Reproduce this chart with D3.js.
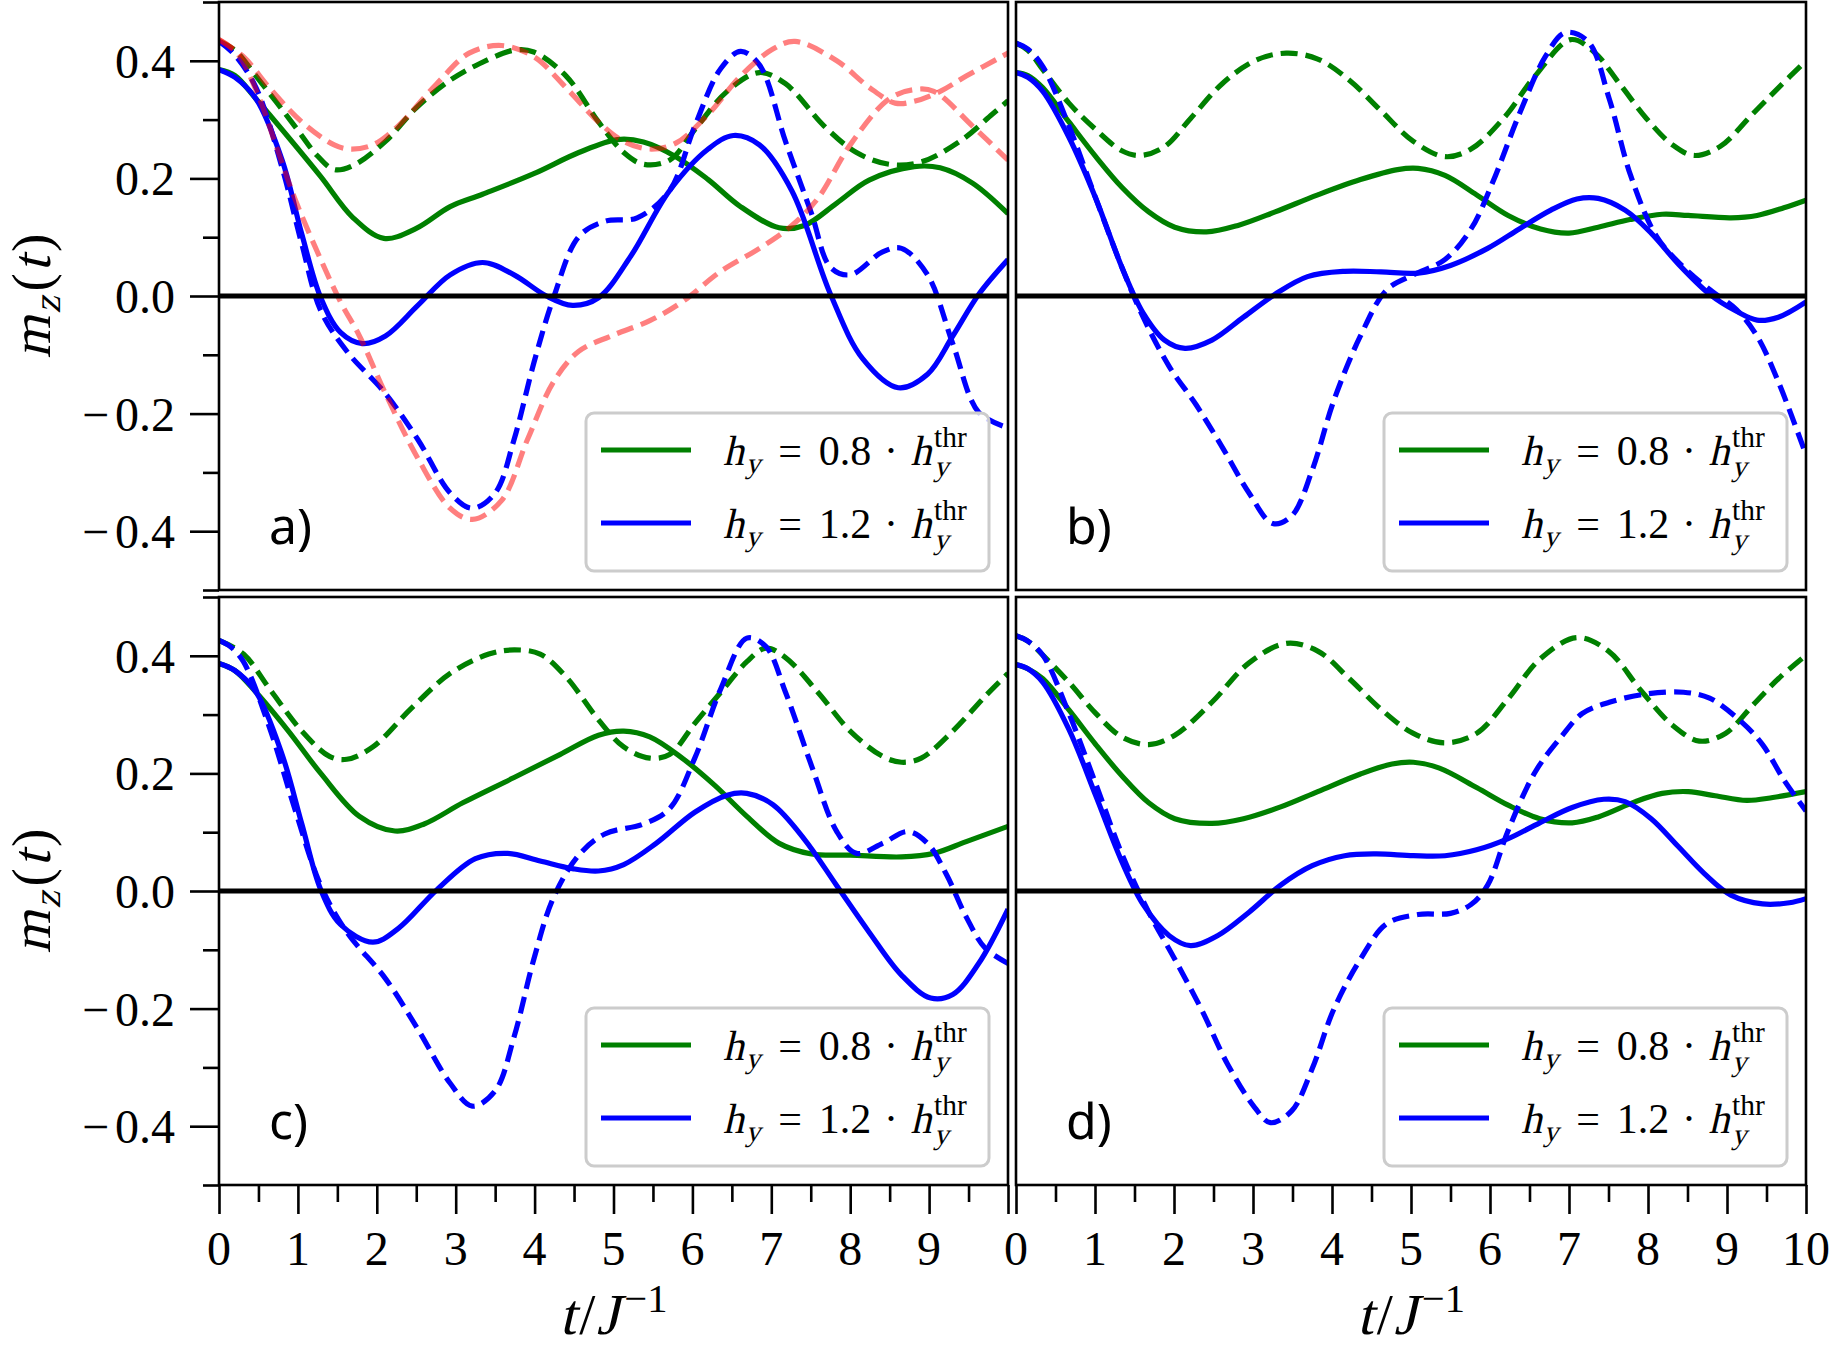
<!DOCTYPE html>
<html><head><meta charset="utf-8">
<script src="https://cdn.jsdelivr.net/npm/d3@7"></script>
<style>
body{margin:0;background:#fff}
.serif{font-family:"Liberation Serif","DejaVu Serif",serif}
.sans{font-family:"Noto Sans","Open Sans",sans-serif}
</style>
</head><body>
<svg id="chart" width="1829" height="1352"></svg>
<script>
// ---------------- data ----------------
const yTicksMajor = [-0.4, -0.2, 0, 0.2, 0.4];
const yTickLabels = ["−0.4", "−0.2", "0.0", "0.2", "0.4"];
const yTicksMinor = [-0.5, -0.3, -0.1, 0.1, 0.3, 0.5];
const xTicksMajor = [0,1,2,3,4,5,6,7,8,9,10];
const xTicksMinor = [0.5,1.5,2.5,3.5,4.5,5.5,6.5,7.5,8.5,9.5];
const xTickLabelsLeft = ["0","1","2","3","4","5","6","7","8","9",""];
const xTickLabelsRight = ["0","1","2","3","4","5","6","7","8","9","10"];
const panelLabels = ["a)", "b)", "c)", "d)"];
const legendFactors = ["0.8", "1.2"];

// [t, m_z]
const a_green_solid = [[0,0.385],[0.2,0.375],[0.47,0.335],[0.88,0.27],[1.29,0.203],[1.7,0.133],[2.09,0.098],[2.5,0.115],[2.93,0.152],[3.34,0.173],[3.99,0.208],[4.56,0.244],[5.05,0.266],[5.38,0.262],[5.79,0.237],[6.2,0.198],[6.6,0.153],[7.1,0.116],[7.42,0.12],[7.83,0.158],[8.24,0.197],[8.81,0.22],[9.14,0.218],[9.55,0.192],[10,0.14]];
const a_green_dashed = [[0,0.433],[0.2,0.418],[0.47,0.374],[0.96,0.289],[1.25,0.238],[1.46,0.215],[1.7,0.222],[2.11,0.263],[2.5,0.32],[2.93,0.367],[3.3,0.395],[3.74,0.418],[3.99,0.415],[4.4,0.374],[4.81,0.296],[5.13,0.244],[5.38,0.224],[5.71,0.231],[6.03,0.283],[6.44,0.348],[6.85,0.38],[7.18,0.361],[7.67,0.289],[8.08,0.244],[8.49,0.224],[8.9,0.228],[9.39,0.263],[9.8,0.309],[10,0.332]];
const a_blue_solid = [[0,0.385],[0.2,0.372],[0.47,0.335],[0.8,0.231],[1.05,0.105],[1.29,-0.003],[1.54,-0.062],[1.82,-0.081],[2.11,-0.068],[2.52,-0.016],[2.93,0.036],[3.34,0.057],[3.74,0.036],[4.15,0.0],[4.48,-0.016],[4.81,-0.003],[5.22,0.068],[5.71,0.179],[6.2,0.25],[6.52,0.273],[6.85,0.257],[7.26,0.179],[7.75,0.003],[8.16,-0.107],[8.61,-0.156],[8.98,-0.133],[9.3,-0.068],[9.63,0.003],[10,0.062]];
const a_blue_dashed = [[0,0.433],[0.2,0.41],[0.47,0.354],[0.8,0.218],[1.05,0.088],[1.29,-0.025],[1.62,-0.094],[2.11,-0.166],[2.52,-0.244],[2.93,-0.335],[3.21,-0.361],[3.5,-0.335],[3.74,-0.244],[3.99,-0.114],[4.24,-0.003],[4.56,0.101],[4.89,0.127],[5.3,0.133],[5.71,0.179],[6.03,0.289],[6.36,0.387],[6.61,0.416],[6.85,0.393],[7.18,0.263],[7.51,0.14],[7.75,0.049],[8.0,0.036],[8.41,0.075],[8.65,0.081],[8.98,0.036],[9.3,-0.081],[9.63,-0.198],[10,-0.224]];
const a_red_dashed_1 = [[0,0.436],[0.31,0.407],[0.64,0.354],[1.05,0.296],[1.46,0.257],[1.66,0.25],[1.95,0.257],[2.27,0.289],[2.76,0.361],[3.17,0.413],[3.58,0.426],[3.99,0.407],[4.4,0.354],[4.81,0.296],[5.13,0.263],[5.46,0.25],[5.79,0.26],[6.2,0.309],[6.61,0.374],[7.02,0.42],[7.3,0.433],[7.83,0.4],[8.24,0.355],[8.57,0.328],[8.81,0.331],[9.14,0.348],[9.47,0.374],[10,0.413]];
const a_red_dashed_2 = [[0,0.436],[0.23,0.413],[0.5,0.34],[0.72,0.257],[0.96,0.166],[1.29,0.062],[1.54,-0.01],[1.78,-0.068],[2.11,-0.166],[2.52,-0.276],[2.93,-0.361],[3.21,-0.38],[3.58,-0.348],[3.91,-0.244],[4.24,-0.146],[4.56,-0.094],[4.97,-0.068],[5.46,-0.042],[5.87,-0.01],[6.36,0.042],[6.85,0.081],[7.26,0.12],[7.59,0.166],[8.0,0.257],[8.49,0.335],[8.81,0.351],[9.06,0.348],[9.55,0.289],[10,0.231]];

const b_green_solid = [[0,0.38],[0.15,0.375],[0.34,0.354],[0.67,0.296],[1.01,0.237],[1.34,0.185],[1.68,0.143],[2.01,0.117],[2.41,0.109],[2.81,0.12],[3.28,0.143],[3.82,0.172],[4.36,0.198],[4.83,0.215],[5.09,0.217],[5.43,0.205],[5.83,0.172],[6.23,0.137],[6.64,0.114],[7.0,0.107],[7.37,0.117],[7.77,0.13],[8.18,0.139],[8.51,0.137],[9.05,0.133],[9.38,0.137],[9.72,0.15],[10,0.163]];
const b_green_dashed = [[0,0.43],[0.15,0.418],[0.34,0.385],[0.67,0.328],[1.01,0.283],[1.34,0.247],[1.58,0.239],[1.88,0.254],[2.21,0.302],[2.61,0.361],[3.02,0.4],[3.42,0.413],[3.82,0.403],[4.22,0.367],[4.62,0.315],[5.03,0.263],[5.43,0.237],[5.76,0.25],[6.17,0.302],[6.57,0.374],[7.02,0.436],[7.31,0.416],[7.64,0.361],[7.98,0.302],[8.31,0.257],[8.58,0.239],[8.91,0.254],[9.32,0.309],[9.65,0.354],[10,0.4]];
const b_blue_solid = [[0,0.38],[0.15,0.372],[0.34,0.348],[0.67,0.27],[1.01,0.166],[1.34,0.049],[1.61,-0.029],[1.88,-0.075],[2.14,-0.089],[2.48,-0.075],[2.88,-0.036],[3.28,0.003],[3.69,0.033],[4.16,0.042],[4.62,0.041],[5.09,0.039],[5.5,0.052],[5.97,0.081],[6.37,0.114],[6.77,0.146],[7.1,0.165],[7.37,0.166],[7.71,0.146],[8.04,0.107],[8.38,0.055],[8.78,0.003],[9.12,-0.026],[9.38,-0.041],[9.65,-0.036],[10,-0.01]];
const b_blue_dashed = [[0,0.43],[0.15,0.42],[0.34,0.39],[0.67,0.289],[1.01,0.166],[1.34,0.049],[1.61,-0.036],[1.94,-0.12],[2.28,-0.185],[2.61,-0.257],[2.95,-0.335],[3.25,-0.387],[3.49,-0.374],[3.75,-0.296],[4.02,-0.179],[4.36,-0.068],[4.69,0.01],[5.03,0.036],[5.43,0.062],[5.76,0.114],[6.03,0.192],[6.37,0.309],[6.7,0.407],[6.95,0.448],[7.24,0.433],[7.51,0.335],[7.78,0.205],[8.11,0.101],[8.45,0.049],[8.79,0.01],[9.12,-0.023],[9.38,-0.068],[9.65,-0.146],[10,-0.27]];

const c_green_solid = [[0,0.387],[0.2,0.375],[0.47,0.338],[0.88,0.272],[1.29,0.2],[1.78,0.127],[2.23,0.102],[2.6,0.114],[3.09,0.15],[3.74,0.193],[4.32,0.232],[4.81,0.265],[5.13,0.272],[5.46,0.262],[5.87,0.226],[6.28,0.18],[6.69,0.127],[7.1,0.081],[7.51,0.063],[8.0,0.061],[8.65,0.058],[9.06,0.064],[9.47,0.084],[10,0.11]];
const c_green_dashed = [[0,0.426],[0.31,0.403],[0.64,0.344],[1.05,0.272],[1.4,0.229],[1.62,0.224],[1.95,0.245],[2.44,0.311],[2.93,0.37],[3.42,0.403],[3.74,0.41],[4.07,0.403],[4.4,0.364],[4.81,0.291],[5.13,0.245],[5.46,0.226],[5.71,0.232],[6.03,0.285],[6.36,0.338],[6.69,0.39],[6.93,0.413],[7.18,0.397],[7.59,0.338],[8.0,0.272],[8.41,0.229],[8.65,0.219],[8.9,0.226],[9.3,0.272],[9.71,0.331],[10,0.37]];
const c_blue_solid = [[0,0.387],[0.2,0.375],[0.47,0.338],[0.8,0.232],[1.05,0.114],[1.29,0.002],[1.54,-0.057],[1.95,-0.087],[2.27,-0.064],[2.76,0.002],[3.25,0.055],[3.66,0.064],[4.07,0.051],[4.48,0.038],[4.81,0.034],[5.13,0.045],[5.54,0.081],[6.03,0.134],[6.44,0.163],[6.69,0.166],[7.02,0.147],[7.42,0.088],[7.83,0.009],[8.24,-0.07],[8.65,-0.143],[9.02,-0.182],[9.3,-0.176],[9.63,-0.123],[10,-0.031]];
const c_blue_dashed = [[0,0.426],[0.15,0.415],[0.31,0.39],[0.64,0.278],[0.96,0.14],[1.29,0.009],[1.62,-0.07],[2.11,-0.149],[2.52,-0.235],[2.93,-0.327],[3.21,-0.366],[3.5,-0.34],[3.74,-0.248],[3.99,-0.116],[4.24,-0.011],[4.56,0.061],[4.89,0.097],[5.38,0.114],[5.71,0.14],[6.03,0.226],[6.36,0.344],[6.69,0.43],[6.93,0.416],[7.18,0.338],[7.51,0.213],[7.83,0.101],[8.08,0.064],[8.41,0.081],[8.73,0.101],[8.98,0.081],[9.22,0.028],[9.47,-0.044],[9.71,-0.097],[10,-0.123]];

const d_green_solid = [[0,0.385],[0.15,0.378],[0.34,0.361],[0.67,0.308],[1.01,0.249],[1.34,0.196],[1.68,0.15],[2.01,0.123],[2.48,0.115],[2.88,0.123],[3.35,0.143],[3.82,0.169],[4.36,0.199],[4.76,0.216],[5.03,0.219],[5.36,0.209],[5.83,0.176],[6.23,0.146],[6.63,0.123],[7.04,0.116],[7.37,0.126],[7.84,0.152],[8.18,0.166],[8.51,0.169],[8.85,0.162],[9.25,0.154],[9.58,0.159],[10,0.169]];
const d_green_dashed = [[0,0.434],[0.15,0.425],[0.34,0.401],[0.67,0.355],[1.01,0.302],[1.34,0.262],[1.68,0.249],[2.01,0.265],[2.48,0.321],[2.95,0.388],[3.42,0.421],[3.82,0.408],[4.22,0.361],[4.63,0.308],[5.03,0.268],[5.43,0.252],[5.83,0.268],[6.23,0.327],[6.63,0.394],[7.1,0.431],[7.5,0.408],[7.91,0.341],[8.31,0.282],[8.65,0.255],[8.98,0.268],[9.32,0.315],[9.65,0.361],[10,0.401]];
const d_blue_solid = [[0,0.385],[0.15,0.378],[0.34,0.355],[0.67,0.275],[1.01,0.162],[1.34,0.05],[1.61,-0.023],[1.94,-0.076],[2.21,-0.093],[2.55,-0.076],[2.95,-0.036],[3.35,0.01],[3.75,0.043],[4.16,0.06],[4.56,0.063],[5.03,0.06],[5.43,0.06],[5.83,0.07],[6.23,0.089],[6.63,0.116],[7.04,0.142],[7.44,0.156],[7.71,0.152],[8.04,0.123],[8.38,0.076],[8.71,0.03],[9.05,-0.007],[9.45,-0.022],[9.79,-0.02],[10,-0.013]];
const d_blue_dashed = [[0,0.434],[0.15,0.425],[0.34,0.401],[0.67,0.302],[1.01,0.182],[1.34,0.063],[1.68,-0.036],[2.01,-0.116],[2.35,-0.202],[2.68,-0.295],[3.02,-0.368],[3.22,-0.394],[3.49,-0.374],[3.75,-0.302],[4.02,-0.202],[4.36,-0.116],[4.69,-0.056],[5.09,-0.04],[5.5,-0.038],[5.76,-0.023],[5.97,0.01],[6.23,0.103],[6.57,0.202],[6.9,0.262],[7.17,0.302],[7.51,0.321],[7.98,0.335],[8.45,0.338],[8.78,0.328],[9.18,0.288],[9.45,0.249],[9.72,0.189],[10,0.136]];

// ---------------- drawing ----------------
const W = 1829, H = 1352;
const GREEN = "#008000", BLUE = "#0000ff";
const LW = 5.2, DASH = "17,8";
const SLANT = -13;

const panels = [
  {x0:219,  x1:1008, y0:2,   y1:590,  yAxis:true,  xAxis:false, xl:null, label:panelLabels[0],
   gs:a_green_solid, gd:a_green_dashed, bs:a_blue_solid, bd:a_blue_dashed, extra:[a_red_dashed_1, a_red_dashed_2]},
  {x0:1016, x1:1806, y0:2,   y1:590,  yAxis:false, xAxis:false, xl:null, label:panelLabels[1],
   gs:b_green_solid, gd:b_green_dashed, bs:b_blue_solid, bd:b_blue_dashed, extra:[]},
  {x0:219,  x1:1008, y0:597, y1:1185, yAxis:true,  xAxis:true,  xl:xTickLabelsLeft, label:panelLabels[2],
   gs:c_green_solid, gd:c_green_dashed, bs:c_blue_solid, bd:c_blue_dashed, extra:[]},
  {x0:1016, x1:1806, y0:597, y1:1185, yAxis:false, xAxis:true,  xl:xTickLabelsRight, label:panelLabels[3],
   gs:d_green_solid, gd:d_green_dashed, bs:d_blue_solid, bd:d_blue_dashed, extra:[]}
];

const svg = d3.select('#chart');
svg.append('rect').attr('width', W).attr('height', H).attr('fill', '#fff');
const defs = svg.append('defs');

// math-like text: each piece is its own text element placed after the previous one.
// italic pieces are drawn as slanted serif glyphs.
function mathText(parent, x, y, F, parts, anchor) {
  const grp = parent.append('g');
  let cx = 0, lastStart = 0;
  parts.forEach(p => {
    const size = (p.s || 1) * F;
    let px = cx + (p.dx || 0) * F;
    if (p.back) px = lastStart;
    const py = (p.dy || 0) * F;
    const t = grp.append('text').attr('class', 'serif')
      .attr('x', 0).attr('y', 0)
      .attr('transform', `translate(${px},${py})` + (p.it ? ` skewX(${SLANT})` : ''))
      .attr('font-size', size).attr('fill', '#000')
      .text(p.t);
    const w = t.node().getComputedTextLength() + (p.it ? 0.04 * size : 0);
    lastStart = px;
    cx = Math.max(cx, px + w);
  });
  const off = anchor === 'middle' ? -cx / 2 : 0;
  grp.attr('transform', `translate(${x + off},${y})`);
  return grp;
}

panels.forEach((p, pi) => {
  const x = d3.scaleLinear().domain([0, 10]).range([p.x0, p.x1]);
  const y = d3.scaleLinear().domain([-0.5, 0.5]).range([p.y1, p.y0]);
  const clipId = 'clip' + pi;
  defs.append('clipPath').attr('id', clipId).append('rect')
    .attr('x', p.x0).attr('y', p.y0).attr('width', p.x1 - p.x0).attr('height', p.y1 - p.y0);
  const g = svg.append('g');
  const plot = g.append('g').attr('clip-path', `url(#${clipId})`);
  const line = d3.line().x(d => x(d[0])).y(d => y(d[1])).curve(d3.curveCatmullRom.alpha(0.5));

  const series = [
    {d:p.gs, c:GREEN, dash:null},
    {d:p.gd, c:GREEN, dash:DASH},
    {d:p.bs, c:BLUE,  dash:null},
    {d:p.bd, c:BLUE,  dash:DASH}
  ];
  series.forEach(s => {
    plot.append('path').datum(s.d).attr('d', line).attr('fill', 'none')
      .attr('stroke', s.c).attr('stroke-width', LW)
      .attr('stroke-dasharray', s.dash);
  });
  p.extra.forEach(e => {
    plot.append('path').datum(e).attr('d', line).attr('fill', 'none')
      .attr('stroke', 'red').attr('stroke-opacity', 0.5).attr('stroke-width', LW)
      .attr('stroke-dasharray', DASH);
  });
  // zero line
  plot.append('line').attr('x1', p.x0).attr('x2', p.x1).attr('y1', y(0)).attr('y2', y(0))
    .attr('stroke', '#000').attr('stroke-width', 4.8);

  // legend
  const bw = 403, bh = 158;
  const bx = p.x1 - 19 - bw, by = p.y1 - 19 - bh;
  const lg = g.append('g');
  lg.append('rect').attr('x', bx).attr('y', by).attr('width', bw).attr('height', bh)
    .attr('rx', 8).attr('fill', '#fff').attr('fill-opacity', 0.8)
    .attr('stroke', '#cccccc').attr('stroke-width', 3);
  [GREEN, BLUE].forEach((c, i) => {
    const ly = by + 37 + i * 73;
    lg.append('line').attr('x1', bx + 15).attr('x2', bx + 105).attr('y1', ly).attr('y2', ly)
      .attr('stroke', c).attr('stroke-width', LW);
    mathText(lg, bx + 137, by + 52 + i * 73, 42, [
      {t:'h', it:true},
      {t:'y', it:true, s:0.7, dy:0.2},
      {t:'=', it:false, dx:0.4},
      {t:legendFactors[i], it:false, dx:0.4},
      {t:'·', it:false, dx:0.3},
      {t:'h', it:true, dx:0.3},
      {t:'thr', it:false, s:0.7, dy:-0.42, dx:0.02},
      {t:'y', it:true, s:0.7, dy:0.26, back:true}
    ]);
  });

  // panel label
  g.append('text').attr('class', 'sans').attr('x', p.x0 + 50).attr('y', p.y1 - 46)
    .attr('font-size', 50).attr('fill', '#000').text(p.label);

  // y axis
  if (p.yAxis) {
    const ax = g.append('g').attr('transform', `translate(${p.x0},0)`);
    ax.call(d3.axisLeft(y).tickValues(yTicksMajor).tickSize(29).tickFormat(''));
    const axm = g.append('g').attr('transform', `translate(${p.x0},0)`);
    axm.call(d3.axisLeft(y).tickValues(yTicksMinor).tickSize(16).tickFormat(''));
    [ax, axm].forEach(a => {
      a.select('.domain').remove();
      a.selectAll('line').attr('stroke', '#000').attr('stroke-width', 2.6);
    });
    yTicksMajor.forEach((v, i) => {
      const lab = yTickLabels[i];
      const t = g.append('text').attr('class', 'serif').attr('x', p.x0 - 44).attr('y', y(v) + 17)
        .attr('text-anchor', 'end').attr('font-size', 48).attr('fill', '#000');
      if (lab.startsWith('−')) {
        t.append('tspan').text('−');
        t.append('tspan').attr('dx', 6).text(lab.slice(1));
      } else {
        t.text(lab);
      }
    });
    // y label
    const yl = g.append('g').attr('transform', `translate(50,${(p.y0 + p.y1) / 2}) rotate(-90)`);
    mathText(yl, 0, 0, 55, [
      {t:'m', it:true},
      {t:'z', it:true, s:0.7, dy:0.18},
      {t:'(', it:false, dx:0.06},
      {t:'t', it:true, dx:0.03},
      {t:')', it:false, dx:0.04}
    ], 'middle');
  }

  // x axis
  if (p.xAxis) {
    const ax = g.append('g').attr('transform', `translate(0,${p.y1})`);
    ax.call(d3.axisBottom(x).tickValues(xTicksMajor).tickSize(29).tickFormat(''));
    const axm = g.append('g').attr('transform', `translate(0,${p.y1})`);
    axm.call(d3.axisBottom(x).tickValues(xTicksMinor).tickSize(17).tickFormat(''));
    [ax, axm].forEach(a => {
      a.select('.domain').remove();
      a.selectAll('line').attr('stroke', '#000').attr('stroke-width', 2.6);
    });
    xTicksMajor.forEach((v, i) => {
      if (!p.xl[i]) return;
      g.append('text').attr('class', 'serif').attr('x', x(v)).attr('y', p.y1 + 80)
        .attr('text-anchor', 'middle').attr('font-size', 48)
        .attr('fill', '#000').text(p.xl[i]);
    });
    mathText(g, (p.x0 + p.x1) / 2, 1334, 58, [
      {t:'t', it:true},
      {t:'/', it:false, dx:0.02},
      {t:'J', it:true, dx:0.02},
      {t:'−1', it:false, s:0.7, dy:-0.38, dx:0.05}
    ], 'middle');
  }

  // spines
  g.append('rect').attr('x', p.x0).attr('y', p.y0).attr('width', p.x1 - p.x0).attr('height', p.y1 - p.y0)
    .attr('fill', 'none').attr('stroke', '#000').attr('stroke-width', 2.6);
});
</script>
</body></html>
